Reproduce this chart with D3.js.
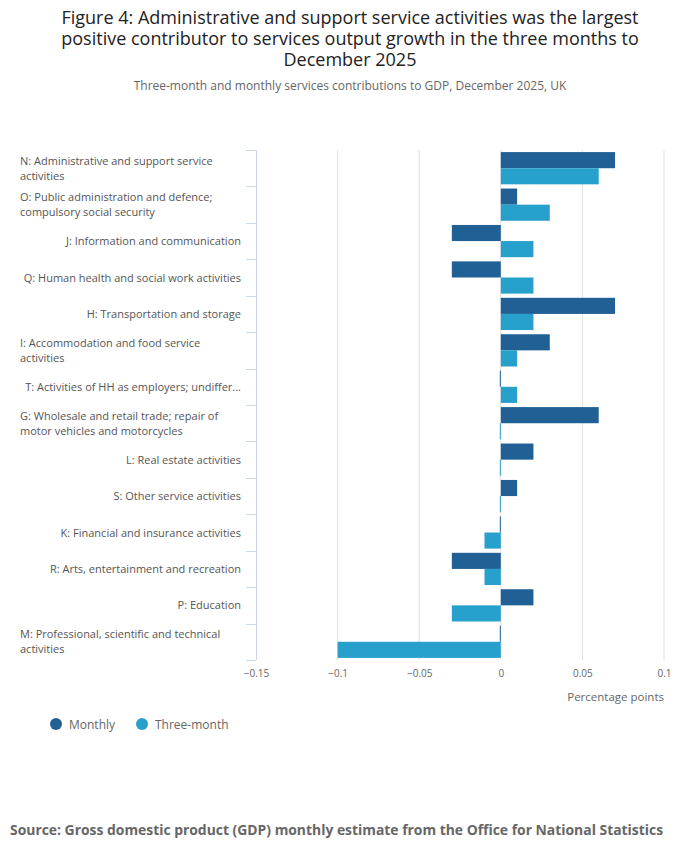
<!DOCTYPE html>
<html>
<head>
<meta charset="utf-8">
<script src="https://cdn.jsdelivr.net/npm/d3@7"></script>
<style>
  body { margin: 0; background: #fff; font-family: "Open Sans", sans-serif; }
</style>
</head>
<body>
<div id="chart"></div>
<script>
// industries, top to bottom; labels already split into the lines shown
var categories = [
  ["N: Administrative and support service", "activities"],
  ["O: Public administration and defence;", "compulsory social security"],
  ["J: Information and communication"],
  ["Q: Human health and social work activities"],
  ["H: Transportation and storage"],
  ["I: Accommodation and food service", "activities"],
  ["T: Activities of HH as employers; undiffer..."],
  ["G: Wholesale and retail trade; repair of", "motor vehicles and motorcycles"],
  ["L: Real estate activities"],
  ["S: Other service activities"],
  ["K: Financial and insurance activities"],
  ["R: Arts, entertainment and recreation"],
  ["P: Education"],
  ["M: Professional, scientific and technical", "activities"]
];
var monthly    = [0.07, 0.01, -0.03, -0.03, 0.07, 0.03, 0, 0.06, 0.02, 0.01, 0, -0.03, 0.02, 0];
var threeMonth = [0.06, 0.03, 0.02, 0.02, 0.02, 0.01, 0.01, 0, 0, 0, -0.01, -0.01, -0.03, -0.1];
var seriesNames = ["Monthly", "Three-month"];
var xTicks = [-0.15, -0.1, -0.05, 0, 0.05, 0.1];

var colors = ["#206095", "#27a0cc"];
var width = 700, height = 857;

var svg = d3.select("#chart").append("svg")
  .attr("width", width)
  .attr("height", height);

// title + subtitle
var titleLines = [
  "Figure 4: Administrative and support service activities was the largest",
  "positive contributor to services output growth in the three months to",
  "December 2025"
];
svg.append("g")
  .selectAll("text")
  .data(titleLines)
  .enter().append("text")
  .attr("x", 350)
  .attr("y", function(d, i) { return 24 + i * 21; })
  .attr("text-anchor", "middle")
  .style("font-size", "18px")
  .style("fill", "#222")
  .text(function(d) { return d; });

svg.append("text")
  .attr("x", 350).attr("y", 90)
  .attr("text-anchor", "middle")
  .style("font-size", "12px")
  .style("fill", "#666")
  .text("Three-month and monthly services contributions to GDP, December 2025, UK");

// plot area
var plot = { left: 256, right: 664, top: 150, bottom: 660 };

var x = d3.scaleLinear()
  .domain([-0.15, 0.1])
  .range([plot.left, plot.right]);

var y = d3.scaleBand()
  .domain(d3.range(categories.length))
  .range([plot.top, plot.bottom]);

var yInner = d3.scaleBand()
  .domain([0, 1])
  .range([0, y.bandwidth()])
  .paddingOuter(0.13);

// gridlines
svg.append("g")
  .selectAll("line")
  .data(xTicks.slice(1))
  .enter().append("line")
  .attr("x1", function(d) { return x(d); })
  .attr("x2", function(d) { return x(d); })
  .attr("y1", plot.top)
  .attr("y2", plot.bottom)
  .attr("stroke", "#e0e0e0")
  .attr("stroke-width", 1);

// x axis labels
var xAxis = d3.axisBottom(x)
  .tickValues(xTicks)
  .tickSize(0)
  .tickPadding(0)
  .tickFormat(function(d) { return d3.format("")(+d.toFixed(2)); });

var gx = svg.append("g")
  .attr("transform", "translate(0," + (plot.bottom + 17) + ")")
  .call(xAxis);
gx.select(".domain").remove();
gx.selectAll("text")
  .style("font-family", "Open Sans, sans-serif")
  .style("font-size", "10px")
  .style("fill", "#666")
  .attr("dy", "0");

svg.append("text")
  .attr("x", plot.right)
  .attr("y", 701)
  .attr("text-anchor", "end")
  .style("font-size", "11.5px")
  .style("fill", "#666")
  .text("Percentage points");

// y axis line and ticks
svg.append("line")
  .attr("x1", plot.left + 0.5).attr("x2", plot.left + 0.5)
  .attr("y1", plot.top).attr("y2", plot.bottom)
  .attr("stroke", "#ccd6eb");

svg.append("g")
  .selectAll("line")
  .data(d3.range(categories.length + 1))
  .enter().append("line")
  .attr("x1", plot.left - 10)
  .attr("x2", plot.left)
  .attr("y1", function(d) { return Math.round(plot.top + d * y.step()) + 0.5; })
  .attr("y2", function(d) { return Math.round(plot.top + d * y.step()) + 0.5; })
  .attr("stroke", "#ccd6eb");

// category labels
var labels = svg.append("g")
  .selectAll("text")
  .data(categories)
  .enter().append("text")
  .style("font-size", "11px")
  .style("fill", "#555")
  .attr("text-anchor", function(d) { return d.length > 1 ? "start" : "end"; })
  .attr("x", function(d) { return d.length > 1 ? 20 : 241; })
  .attr("y", function(d, i) {
    var c = y(i) + y.bandwidth() / 2;
    return d.length > 1 ? c - 3.5 : c + 4;
  });

labels.selectAll("tspan")
  .data(function(d) { return d; })
  .enter().append("tspan")
  .attr("x", function() { return d3.select(this.parentNode).attr("x"); })
  .attr("dy", function(d, i) { return i === 0 ? 0 : 15; })
  .text(function(d) { return d; });

// bars
var series = [monthly, threeMonth];
series.forEach(function(values, s) {
  svg.append("g")
    .selectAll("rect")
    .data(values)
    .enter().append("rect")
    .attr("x", function(d) { return d < 0 ? x(d) : x(0) - (d === 0 ? 1 : 0); })
    .attr("width", function(d) { return Math.max(1, Math.abs(x(d) - x(0))); })
    .attr("y", function(d, i) { return y(i) + yInner(s); })
    .attr("height", yInner.bandwidth())
    .attr("fill", colors[s]);
});

// legend
var legend = svg.append("g")
  .attr("transform", "translate(56,724)");
var item = legend.selectAll("g")
  .data(seriesNames)
  .enter().append("g")
  .attr("transform", function(d, i) { return "translate(" + (i * 86) + ",0)"; });
item.append("circle")
  .attr("r", 6)
  .attr("fill", function(d, i) { return colors[i]; });
item.append("text")
  .attr("x", 13)
  .attr("y", 4.5)
  .style("font-size", "12px")
  .style("fill", "#666")
  .text(function(d) { return d; });

// source
svg.append("text")
  .attr("x", 10)
  .attr("y", 835)
  .style("font-size", "13.9px")
  .style("font-weight", "bold")
  .style("fill", "#666")
  .text("Source: Gross domestic product (GDP) monthly estimate from the Office for National Statistics");
</script>
</body>
</html>
